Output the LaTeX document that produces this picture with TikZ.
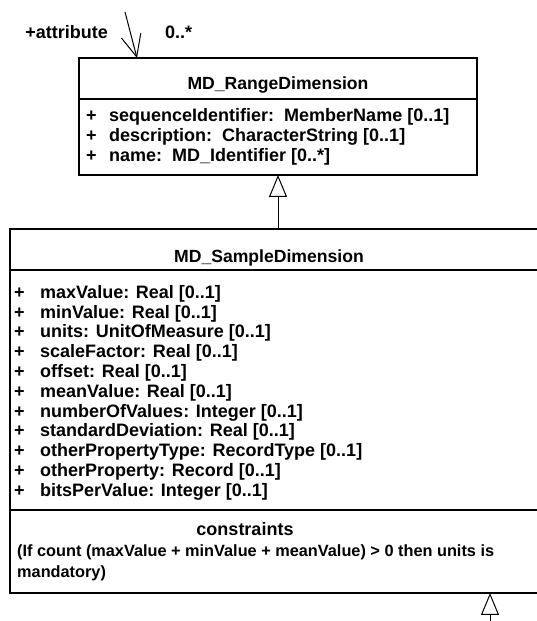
\documentclass[tikz,border=0pt]{standalone}
\usepackage{fontspec}
\setmainfont{Liberation Sans}
\usetikzlibrary{arrows.meta,calc,positioning}
\tikzset{
  classbox/.style={draw,line width=1.2pt,inner sep=0pt,outer sep=0pt},
  headtext/.style={font=\fontsize{17.6}{20}\selectfont\bfseries,inner sep=0pt},
  attrtext/.style={font=\fontsize{18}{20}\selectfont\bfseries,inner sep=0pt,anchor=base west},
  ruletext/.style={attrtext,font=\fontsize{16.3}{20}\selectfont\bfseries},
  gen/.style={-{Triangle[open,length=22pt,width=18pt]},line width=1pt},
  assoc/.style={-{Straight Barb[length=22pt,width=20pt]},line width=1pt}
}
% the "+" column in front of an attribute
\newcommand{\plusmark}[1]{\makebox[#1][l]{+}}

\begin{document}
\begin{tikzpicture}[x=1pt,y=1pt]
 \path[fill=white] (0,0) rectangle (536,621);
 \useasboundingbox (0,0) rectangle (536,621);
 % MD_RangeDimension
 \node[classbox,minimum width=398pt,minimum height=41pt] (rangeHead) at (278,542.5) {};
 \node[classbox,minimum width=398pt,minimum height=76pt,below=0pt of rangeHead] (rangeAttr) {};
 \node[headtext,anchor=base] (rangeName) at (278,531) {MD\_RangeDimension};
 \foreach \a [count=\i] in {{sequenceIdentifier:\ \ MemberName [0..1]},
     {description:\ \ CharacterString [0..1]}, {name:\ \ MD\_Identifier [0..*]}}
   \node[attrtext] (ra\i) at (86,{519.7-20*\i}) {\plusmark{23pt}\a};
 % MD_SampleDimension, runs past the right edge
 \node[classbox,minimum width=538pt,minimum height=41pt] (sampleHead) at (279,371.5) {};
 \node[classbox,minimum width=538pt,minimum height=240pt,below=0pt of sampleHead] (sampleAttr) {};
 \node[classbox,minimum width=538pt,minimum height=83pt,below=0pt of sampleAttr] (sampleCons) {};
 \node[headtext,anchor=base] (sampleName) at (269,358) {MD\_SampleDimension};
 \foreach \a [count=\i] in {{maxValue: Real [0..1]}, {minValue: Real [0..1]},
     {units: UnitOfMeasure [0..1]}, {scaleFactor: Real [0..1]},
     {offset: Real [0..1]}, {meanValue: Real [0..1]},
     {numberOfValues: Integer [0..1]}, {standardDeviation: Real [0..1]},
     {otherPropertyType: RecordType [0..1]}, {otherProperty: Record [0..1]},
     {bitsPerValue: Integer [0..1]}}
   \node[attrtext] (sa\i) at (14,{342.5-19.8*\i}) {\plusmark{26pt}\a};
 \node[attrtext,anchor=base] (consTitle) at (245,85) {constraints};
 \node[ruletext] (consRule) at (17,64) {(If count (maxValue + minValue + meanValue) > 0 then units is};
 \node[ruletext] (consRuleEnd) at (17,43) {mandatory)};
 % generalizations
 \draw[gen] (rangeAttr.south |- sampleHead.north) -- (rangeAttr.south);
 \coordinate (subclassTop) at (490,-10);
 \draw[gen] (subclassTop) -- (subclassTop |- sampleCons.south);
 % association end at the top
 \coordinate (assocEnd) at (125,609);
 \draw[assoc] (assocEnd) -- ($(rangeHead.north west)+(58,0)$);
 \node[attrtext,anchor=base east] (roleName) at (108,582) {+attribute};
 \node[attrtext] (roleMult) at (165,582) {0..*};
\end{tikzpicture}
\end{document}
